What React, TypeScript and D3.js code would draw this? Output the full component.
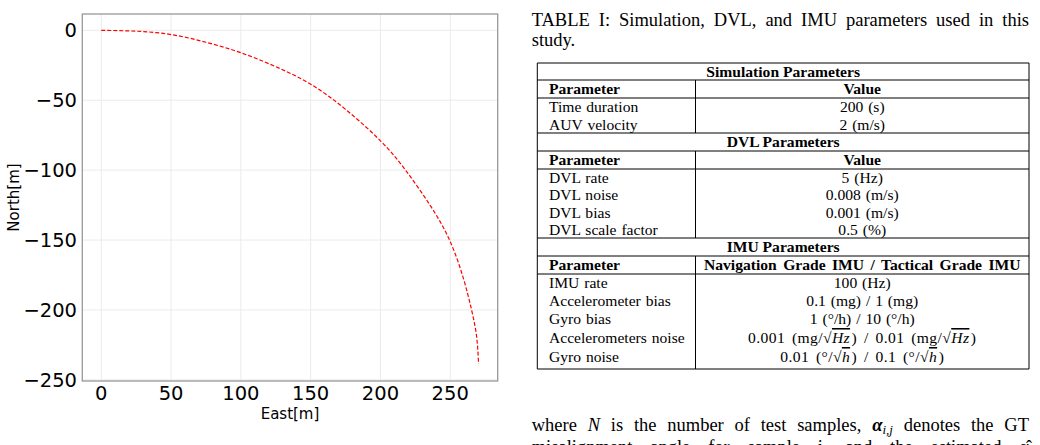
import React, { useEffect, useRef } from 'react';
import * as d3 from 'd3';

// trajectory
const east = [0, 25, 50, 75, 100, 125, 150, 175, 200, 218, 235.5, 249.5, 259.3, 265.3, 268.9, 270.3];
const north = [0, -0.6, -3, -8.5, -16, -26, -38.5, -56.5, -79, -100, -125, -150, -177, -200, -219, -238.7];
const xTicks = [0, 50, 100, 150, 200, 250];
const yTicks = [0, -50, -100, -150, -200, -250];

const simParams = ['Time duration', 'AUV velocity'];
const simValues = ['200 (s)', '2 (m/s)'];
const dvlParams = ['DVL rate', 'DVL noise', 'DVL bias', 'DVL scale factor'];
const dvlValues = ['5 (Hz)', '0.008 (m/s)', '0.001 (m/s)', '0.5 (%)'];
const imuParams = ['IMU rate', 'Accelerometer bias', 'Gyro bias', 'Accelerometers noise', 'Gyro noise'];
const imuValues = ['100 (Hz)', '0.1 (mg) / 1 (mg)', '1 (°/h) / 10 (°/h)', '0.001 (mg/√Hz) / 0.01 (mg/√Hz)', '0.01 (°/√h) / 0.1 (°/√h)'];

const W = 1040, H = 445;
const serif = '"Liberation Serif", "Times New Roman", serif';
const sans = '"DejaVu Sans", sans-serif';

// renders "√xx" as sqrt sign + italic overlined radicand
const mathText = (s: string) => {
  const parts = s.split(/√(\w+)/);
  return parts.map((p, i) =>
    i % 2 === 1 ? (
      <React.Fragment key={i}>
        <tspan>√</tspan>
        <tspan fontStyle="italic" style={{ textDecoration: 'overline' }}>{p}</tspan>
      </React.Fragment>
    ) : (
      <tspan key={i} dx={i > 0 ? 1.5 : 0}>{p}</tspan>
    )
  );
};

const Chart = () => {
  const x = d3.scaleLinear().domain([-13.6, 284]).range([82.3, 497.7]);
  const y = d3.scaleLinear().domain([-250.8, 11.7]).range([381, 14]);
  const line = d3.line<number>()
    .x((_, i) => x(east[i]))
    .y(d => y(d))
    .curve(d3.curveNatural);

  const [x0, x1] = x.range();
  const [y0, y1] = y.range();

  return (
    <g>
      {xTicks.map(t => (
        <line key={'gx' + t} x1={x(t)} x2={x(t)} y1={y0} y2={y1} stroke="#ebebeb" strokeWidth={1} />
      ))}
      {yTicks.map(t => (
        <line key={'gy' + t} x1={x0} x2={x1} y1={y(t)} y2={y(t)} stroke="#ebebeb" strokeWidth={1} />
      ))}
      <path d={line(north) || ''} fill="none" stroke="#ff0000" strokeWidth={1.2} strokeDasharray="4,2" />
      <rect x={x0} y={y1} width={x1 - x0} height={y0 - y1} fill="none" stroke="#999" strokeWidth={1.3} />
      {xTicks.map(t => (
        <text key={'tx' + t} x={x(t)} y={400} textAnchor="middle" fontFamily={sans} fontSize={19.5} fill="#000">
          {t}
        </text>
      ))}
      {yTicks.map(t => (
        <text key={'ty' + t} x={77} y={y(t)} dy="0.36em" textAnchor="end" fontFamily={sans} fontSize={19.5} fill="#000">
          {t < 0 ? '\u2212' + Math.abs(t) : t}
        </text>
      ))}
      <text x={(x0 + x1) / 2} y={419} textAnchor="middle" fontFamily={sans} fontSize={15}>East[m]</text>
      <text transform={`translate(19,${(y0 + y1) / 2}) rotate(-90)`} textAnchor="middle" fontFamily={sans} fontSize={15}>North[m]</text>
    </g>
  );
};

const Table = () => {
  const left = 537.3, right = 1029, mid = 695.5;
  const fs = 15.6;
  const sections = [
    { title: 'Simulation Parameters', head: 'Value', params: simParams, values: simValues, rowH: 17.5 },
    { title: 'DVL Parameters', head: 'Value', params: dvlParams, values: dvlValues, rowH: 17.3 },
    { title: 'IMU Parameters', head: 'Navigation Grade IMU / Tactical Grade IMU', params: imuParams, values: imuValues, rowH: 18 },
  ];
  const ends = [133, 238, 369];
  const els: any[] = [];
  const hLines: number[] = [];
  const dividers: [number, number][] = [];
  let top = 63;
  hLines.push(top);
  sections.forEach((s, si) => {
    // section title row
    els.push(
      <text key={'t' + si} x={(left + right) / 2} y={top + 13.5} textAnchor="middle" fontWeight="bold" fontFamily={serif} fontSize={fs}>
        {s.title}
      </text>
    );
    top += si === 0 ? 17 : 18;
    hLines.push(top);
    const divTop = top;
    // header row
    els.push(
      <text key={'hp' + si} x={549} y={top + 14} fontWeight="bold" fontFamily={serif} fontSize={fs}>Parameter</text>,
      <text key={'hv' + si} x={(mid + right) / 2} y={top + 14} textAnchor="middle" fontWeight="bold" fontFamily={serif} fontSize={fs} wordSpacing={2.5}>
        {s.head}
      </text>
    );
    top += 18;
    hLines.push(top);
    let b = top + 14;
    s.params.forEach((p, i) => {
      const hasRoot = s.values[i].includes('√');
      if (i > 0) b += s.rowH + (hasRoot ? 1 : 0);
      els.push(
        <text key={'p' + si + i} x={549} y={b} fontFamily={serif} fontSize={fs} wordSpacing={1}>{p}</text>,
        <text key={'v' + si + i} x={(mid + right) / 2} y={b} textAnchor="middle" fontFamily={serif} fontSize={fs}
          wordSpacing={hasRoot ? 2.5 : 1} letterSpacing={hasRoot ? 0.4 : 0}>
          {mathText(s.values[i])}
        </text>
      );
    });
    top = ends[si];
    hLines.push(top);
    dividers.push([divTop, top]);
  });
  const uniq = Array.from(new Set(hLines));
  return (
    <g>
      {uniq.map((yy, i) => (
        <line key={'h' + i} x1={left} x2={right} y1={yy} y2={yy} stroke="#000" strokeWidth={1} />
      ))}
      <line x1={left} x2={left} y1={63} y2={369} stroke="#000" strokeWidth={1} />
      <line x1={right} x2={right} y1={63} y2={369} stroke="#000" strokeWidth={1} />
      {dividers.map(([a, b], i) => (
        <line key={'d' + i} x1={mid} x2={mid} y1={a} y2={b} stroke="#000" strokeWidth={1} />
      ))}
      {els}
    </g>
  );
};

const App = () => {
  const justifyRefs = useRef<(SVGTextElement | null)[]>([]);

  useEffect(() => {
    // stretch inter-word space so lines fill the column, like justified text
    justifyRefs.current.forEach(el => {
      if (!el) return;
      el.setAttribute('word-spacing', '0');
      const len = el.getComputedTextLength();
      const spaces = (el.textContent || '').split(' ').length - 1;
      const target = 1029 - 531.7;
      if (spaces > 0) el.setAttribute('word-spacing', String(Math.max(0, (target - len) / spaces)));
    });
  }, []);

  return (
    <div style={{ position: 'fixed', left: 0, top: 0, width: W, height: H, background: '#fff' }}>
      <svg width={W} height={H} style={{ display: 'block' }}>
        <rect width={W} height={H} fill="#fff" />
        <Chart />
        <text ref={el => { justifyRefs.current[0] = el; }} x={531.7} y={25.5} fontFamily={serif} fontSize={18.5}>
          TABLE I: Simulation, DVL, and IMU parameters used in this
        </text>
        <text x={531.7} y={46} fontFamily={serif} fontSize={18.5}>study.</text>
        <Table />
        <text ref={el => { justifyRefs.current[1] = el; }} x={531.7} y={431} fontFamily={serif} fontSize={18.5}>
          <tspan>where </tspan>
          <tspan fontStyle="italic">N</tspan>
          <tspan> is the number of test samples, </tspan>
          <tspan fontStyle="italic" fontWeight="bold">α</tspan>
          <tspan fontStyle="italic" fontSize={13} dy={3}>i,j</tspan>
          <tspan dy={-3}> denotes the GT</tspan>
        </text>
        <text ref={el => { justifyRefs.current[2] = el; }} x={531.7} y={453} fontFamily={serif} fontSize={18.5}>
          misalignment angle for sample i, and the estimated α̂
        </text>
      </svg>
    </div>
  );
};

export default App;
